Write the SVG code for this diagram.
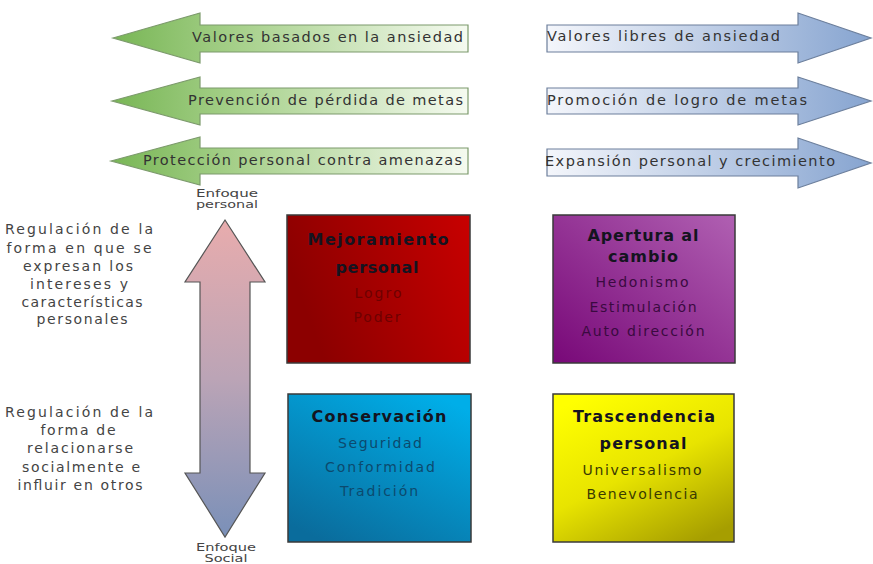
<svg xmlns="http://www.w3.org/2000/svg" width="873" height="564" viewBox="0 0 873 564">
<defs>
<linearGradient id="gGreen" x1="0" y1="0" x2="1" y2="0">
<stop offset="0" stop-color="#78b655"/><stop offset="0.35" stop-color="#a6d08a"/><stop offset="1" stop-color="#f5faf0"/>
</linearGradient>
<linearGradient id="gBlue" x1="0" y1="0" x2="1" y2="0">
<stop offset="0" stop-color="#f4f6fb"/><stop offset="0.6" stop-color="#b4c6e2"/><stop offset="1" stop-color="#86a4d0"/>
</linearGradient>
<linearGradient id="gVert" x1="0" y1="0" x2="0" y2="1">
<stop offset="0" stop-color="#e8acad"/><stop offset="0.5" stop-color="#bba4b6"/><stop offset="1" stop-color="#7a90b8"/>
</linearGradient>
<linearGradient id="gRed" x1="0" y1="0.3" x2="1" y2="0">
<stop offset="0" stop-color="#8c0000"/><stop offset="1" stop-color="#c80000"/>
</linearGradient>
<linearGradient id="gPurple" x1="0" y1="1" x2="1" y2="0">
<stop offset="0" stop-color="#780878"/><stop offset="1" stop-color="#b060b2"/>
</linearGradient>
<linearGradient id="gCyan" x1="0.2" y1="1" x2="0.8" y2="0">
<stop offset="0" stop-color="#0a6c9c"/><stop offset="1" stop-color="#00aee8"/>
</linearGradient>
<linearGradient id="gYellow" x1="0.2" y1="0" x2="0.8" y2="1">
<stop offset="0" stop-color="#ffff00"/><stop offset="0.5" stop-color="#e8e400"/><stop offset="1" stop-color="#a69e00"/>
</linearGradient>
</defs>
<style>
text{font-family:"DejaVu Sans","Open Sans","Liberation Sans",sans-serif;}
.arrowL{fill:url(#gGreen);stroke:#7c9a6c;stroke-width:1.2;}
.arrowR{fill:url(#gBlue);stroke:#6c7f9c;stroke-width:1.2;}
.vert{fill:url(#gVert);stroke:#555;stroke-width:1.2;}
.box{stroke:#3a3a3a;stroke-width:1.5;}
.at{font-size:14.5px;fill:#333;}
.side{font-size:14px;fill:#444;text-anchor:middle;}
.enf{font-size:10px;fill:#444;text-anchor:middle;}
.title{font-size:16px;font-weight:bold;fill:#141420;text-anchor:middle;}
.item{font-size:14px;text-anchor:middle;}
</style>
<rect width="873" height="564" fill="#ffffff"/>

<g id="connectors">
<path id="arrow-valores-ansiedad" class="arrowL" d="M113,38 L200,13 L200,25 L468,25 L468,52 L200,52 L200,63 Z"/>
<path id="arrow-prevencion" class="arrowL" d="M112,101 L200,77 L200,88 L468,88 L468,114 L200,114 L200,125 Z"/>
<path id="arrow-proteccion" class="arrowL" d="M111,161 L200,137 L200,148 L468,148 L468,174 L200,174 L200,185 Z"/>
<path id="arrow-libres" class="arrowR" d="M547,25 L798,25 L798,13 L871,38 L798,63 L798,52 L547,52 Z"/>
<path id="arrow-promocion" class="arrowR" d="M547,88 L798,88 L798,77 L871,101 L798,125 L798,114 L547,114 Z"/>
<path id="arrow-expansion" class="arrowR" d="M547,149 L798,149 L798,138 L871,163 L798,188 L798,176 L547,176 Z"/>
<path id="arrow-enfoque" class="vert" d="M225,220 L265,282 L250,282 L250,473 L265,473 L225,537 L185,473 L200,473 L200,282 L185,282 Z"/>
</g>

<g id="arrow-labels">
<text class="at" x="192" y="42" textLength="271" lengthAdjust="spacing">Valores basados en la ansiedad</text>
<text class="at" x="188" y="105" textLength="275" lengthAdjust="spacing">Prevención de pérdida de metas</text>
<text class="at" x="143" y="165" textLength="319" lengthAdjust="spacing">Protección personal contra amenazas</text>
<text class="at" x="547" y="41" textLength="233" lengthAdjust="spacing">Valores libres de ansiedad</text>
<text class="at" x="547" y="105" textLength="260" lengthAdjust="spacing">Promoción de logro de metas</text>
<text class="at" x="545" y="166" textLength="290" lengthAdjust="spacing">Expansión personal y crecimiento</text>
</g>

<g id="enfoque-personal">
<text class="enf" x="227" y="197" textLength="62" lengthAdjust="spacingAndGlyphs">Enfoque</text>
<text class="enf" x="227" y="208" textLength="62" lengthAdjust="spacingAndGlyphs">personal</text>
</g>
<g id="enfoque-social">
<text class="enf" x="226" y="551" textLength="60" lengthAdjust="spacingAndGlyphs">Enfoque</text>
<text class="enf" x="226" y="562" textLength="43" lengthAdjust="spacingAndGlyphs">Social</text>
</g>

<g id="side-personal">
<text class="side" x="79" y="234" textLength="148" lengthAdjust="spacing">Regulación de la</text>
<text class="side" x="79" y="253" textLength="145" lengthAdjust="spacing">forma en que se</text>
<text class="side" x="78" y="271" textLength="110" lengthAdjust="spacing">expresan los</text>
<text class="side" x="79" y="289" textLength="98" lengthAdjust="spacing">intereses y</text>
<text class="side" x="82" y="307" textLength="121" lengthAdjust="spacing">características</text>
<text class="side" x="82" y="324" textLength="91" lengthAdjust="spacing">personales</text>
</g>

<g id="side-social">
<text class="side" x="79" y="417" textLength="148" lengthAdjust="spacing">Regulación de  la</text>
<text class="side" x="78" y="435" textLength="75" lengthAdjust="spacing">forma de</text>
<text class="side" x="80" y="453" textLength="106" lengthAdjust="spacing">relacionarse</text>
<text class="side" x="81" y="472" textLength="118" lengthAdjust="spacing">socialmente e</text>
<text class="side" x="80" y="490" textLength="125" lengthAdjust="spacing">influir en otros</text>
</g>

<g id="box-mejoramiento">
<rect class="box" x="287" y="215" width="183" height="148" fill="url(#gRed)"/>
<text class="title" x="378" y="245" textLength="141" lengthAdjust="spacing">Mejoramiento</text>
<text class="title" x="377" y="273" textLength="83" lengthAdjust="spacing">personal</text>
<text class="item" x="378" y="298" fill="#6e0000" textLength="47" lengthAdjust="spacing">Logro</text>
<text class="item" x="377" y="322" fill="#6e0000" textLength="47" lengthAdjust="spacing">Poder</text>
</g>

<g id="box-apertura">
<rect class="box" x="553" y="215" width="182" height="148" fill="url(#gPurple)"/>
<text class="title" x="643" y="241" textLength="111" lengthAdjust="spacing">Apertura al</text>
<text class="title" x="643" y="262" textLength="70" lengthAdjust="spacing">cambio</text>
<text class="item" x="642" y="287" fill="#3a0a40" textLength="93" lengthAdjust="spacing">Hedonismo</text>
<text class="item" x="643" y="312" fill="#3a0a40" textLength="107" lengthAdjust="spacing">Estimulación</text>
<text class="item" x="643" y="336" fill="#3a0a40" textLength="123" lengthAdjust="spacing">Auto dirección</text>
</g>

<g id="box-conservacion">
<rect class="box" x="288" y="394" width="183" height="148" fill="url(#gCyan)"/>
<text class="title" x="379" y="422" textLength="135" lengthAdjust="spacing">Conservación</text>
<text class="item" x="380" y="448" fill="#0c4a6e" textLength="84" lengthAdjust="spacing">Seguridad</text>
<text class="item" x="380" y="472" fill="#0c4a6e" textLength="110" lengthAdjust="spacing">Conformidad</text>
<text class="item" x="379" y="496" fill="#0c4a6e" textLength="78" lengthAdjust="spacing">Tradición</text>
</g>

<g id="box-trascendencia">
<rect class="box" x="553" y="394" width="181" height="148" fill="url(#gYellow)"/>
<text class="title" x="644" y="422" textLength="142" lengthAdjust="spacing">Trascendencia</text>
<text class="title" x="643" y="449" textLength="87" lengthAdjust="spacing">personal</text>
<text class="item" x="642" y="475" fill="#3a3a00" textLength="119" lengthAdjust="spacing">Universalismo</text>
<text class="item" x="642" y="499" fill="#3a3a00" textLength="111" lengthAdjust="spacing">Benevolencia</text>
</g>
</svg>
